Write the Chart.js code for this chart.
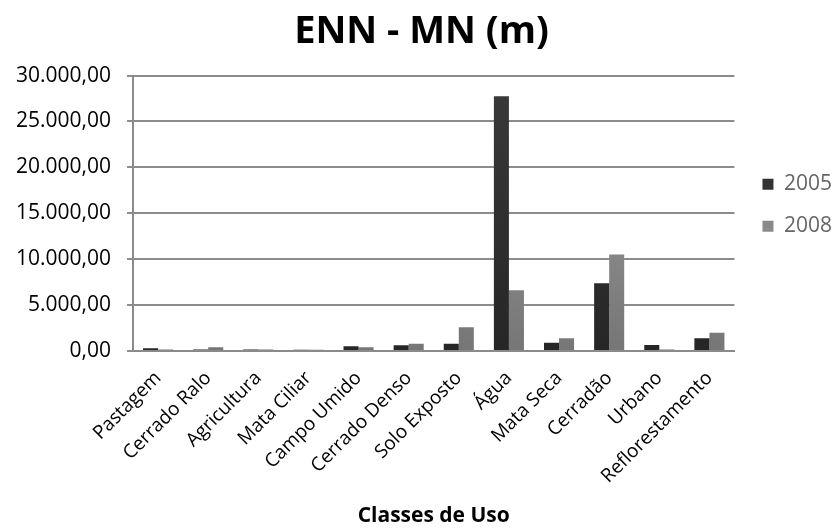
<!DOCTYPE html>
<html>
<head>
<meta charset="utf-8">
<script src="https://cdn.jsdelivr.net/npm/chart.js@4"></script>
<style>
  html, body { margin: 0; padding: 0; background: #fff; }
  #wrap { width: 839px; height: 531px; }
</style>
</head>
<body>
<div id="wrap"><canvas id="c" width="839" height="531"></canvas></div>
<script>
// Land-use classes and mean nearest-neighbour distance (m) per year
const categories = ['Pastagem', 'Cerrado Ralo', 'Agricultura', 'Mata Ciliar', 'Campo Umido', 'Cerrado Denso',
  'Solo Exposto', 'Água', 'Mata Seca', 'Cerradão', 'Urbano', 'Reflorestamento'];
const enn2005 = [290, 150, 150, 130, 510, 620, 800, 27750, 910, 7370, 650, 1380];
const enn2008 = [150, 400, 150, 130, 400, 800, 2580, 6620, 1380, 10520, 150, 2000];
const yTicks = [0, 5000, 10000, 15000, 20000, 25000, 30000];

const FONT = "'Open Sans', sans-serif";
const fmt = new Intl.NumberFormat('pt-BR', { minimumFractionDigits: 2, maximumFractionDigits: 2 });

function vGrad(ctx, top, bottom) {
  const chart = ctx.chart;
  const area = chart.chartArea;
  if (!area) return bottom;
  const g = chart.ctx.createLinearGradient(0, area.top, 0, area.bottom);
  g.addColorStop(0, top);
  g.addColorStop(1, bottom);
  return g;
}

// nudges the legend block a few pixels to the right of its default spot
const LEGEND_DX = 7;
const legendShift = {
  id: 'legendShift',
  afterLayout(chart) {
    const lg = chart.legend;
    if (!lg) return;
    lg.left += LEGEND_DX;
    lg.right += LEGEND_DX;
    (lg.legendHitBoxes || []).forEach(h => { h.left += LEGEND_DX; });
  }
};

new Chart(document.getElementById('c'), {
  type: 'bar',
  data: {
    labels: categories,
    datasets: [
      { label: '2005', data: enn2005, backgroundColor: c => vGrad(c, '#3a3a3a', '#262626'), borderWidth: 0 },
      { label: '2008', data: enn2008, backgroundColor: c => vGrad(c, '#a2a2a2', '#767676'), borderWidth: 0 }
    ]
  },
  plugins: [legendShift],
  options: {
    responsive: false,
    animation: false,
    devicePixelRatio: 1,
    layout: { padding: { left: 8, right: 4, top: 0, bottom: 2 } },
    datasets: { bar: { categoryPercentage: 0.6, barPercentage: 1.0 } },
    plugins: {
      title: {
        display: true,
        text: 'ENN - MN (m)',
        color: '#000',
        font: { family: FONT, size: 38, weight: 'bold' },
        padding: { top: 9, bottom: 21 }
      },
      legend: {
        position: 'right',
        fullSize: false,
        align: 'start',
        title: { display: true, text: '', font: { size: 1 }, padding: { top: 76, bottom: 0 } },
        labels: {
          color: '#000',
          font: { family: FONT, size: 21 },
          boxWidth: 11,
          boxHeight: 11,
          padding: 21,
          generateLabels: chart => chart.data.datasets.map((ds, i) => ({
            text: ds.label,
            fillStyle: i === 0 ? '#333333' : '#8a8a8a',
            strokeStyle: 'rgba(0,0,0,0)',
            lineWidth: 0,
            datasetIndex: i,
            hidden: false
          }))
        }
      },
      tooltip: { enabled: false }
    },
    scales: {
      x: {
        grid: { display: false, drawTicks: false },
        border: { display: true, color: '#8a8a8a', width: 2 },
        ticks: {
          color: '#000',
          font: { family: FONT, size: 19 },
          maxRotation: 45,
          minRotation: 45,
          autoSkip: false,
          padding: 16
        },
        title: {
          display: true,
          text: 'Classes de Uso',
          color: '#000',
          font: { family: FONT, size: 21, weight: 'bold' },
          padding: { top: 0, bottom: 0 }
        },
        afterFit: s => { s.height = 178; }
      },
      y: {
        min: 0,
        max: 30000,
        afterBuildTicks: s => { s.ticks = yTicks.map(v => ({ value: v })); },
        grid: { color: '#8c8c8c', lineWidth: 2, tickLength: 6, drawTicks: true },
        border: { display: true, color: '#8a8a8a', width: 2 },
        ticks: {
          color: '#000',
          font: { family: FONT, size: 21 },
          padding: 16,
          callback: v => fmt.format(v)
        },
        afterFit: s => { s.width = 125; }
      }
    }
  }
});
</script>
</body>
</html>
